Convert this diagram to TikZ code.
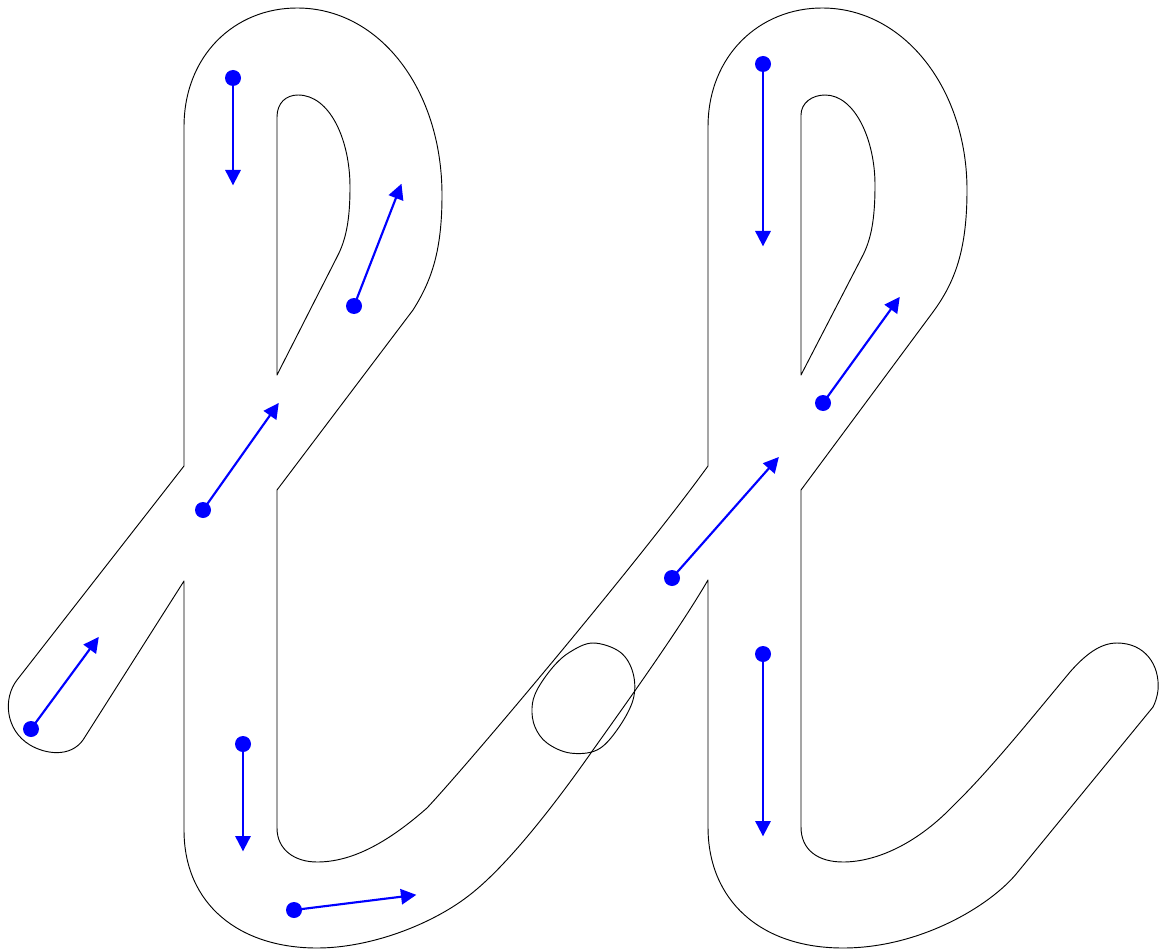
\documentclass[tikz,border=0pt]{standalone}
\usetikzlibrary{arrows.meta}
\tikzset{
  outline/.style={draw=black, line width=0.7pt, line join=round},
  stroke/.style={draw=blue, line width=1.6pt, -{Triangle[length=11.5pt,width=11.5pt]}, shorten >=-1pt},
  dot/.style={fill=blue}
}
\begin{document}
\begin{tikzpicture}[x=0.75pt,y=-0.75pt]
\useasboundingbox (0,0) rectangle (1159,952);
% outer outline of both letters
\draw[outline] (184,466) -- (184,127)
  .. controls (184,55) and (235,8) .. (297,8)
  .. controls (380,8) and (442,90) .. (442,195)
  .. controls (442,250) and (432,280) .. (413,310)
  -- (277,490) -- (277,828)
  .. controls (277,850) and (295,862) .. (317,862)
  .. controls (350,862) and (385,845) .. (427,808)
  .. controls (470,762) and (640,560) .. (708,466)
  -- (708,127)
  .. controls (708,55) and (760,8) .. (822,8)
  .. controls (905,8) and (967,90) .. (967,190)
  .. controls (967,250) and (955,282) .. (933,312)
  -- (801,490) -- (801,827)
  .. controls (801,850) and (818,862) .. (843,862)
  .. controls (875,862) and (915,845) .. (952,807)
  .. controls (990,770) and (1030,720) .. (1070,672)
  .. controls (1085,655) and (1100,643) .. (1117,643)
  .. controls (1145,643) and (1160,665) .. (1158,690)
  .. controls (1157,698) and (1155,703) .. (1153,707)
  -- (1017,873)
  .. controls (990,906) and (920,948) .. (843,948)
  .. controls (760,948) and (708,900) .. (708,827)
  -- (708,580)
  .. controls (680,628) and (630,698) .. (593,750)
  .. controls (565,790) and (510,865) .. (467,897)
  .. controls (430,925) and (370,948) .. (317,948)
  .. controls (240,948) and (184,905) .. (184,830)
  -- (184,581) -- (83,740)
  .. controls (70,758) and (45,754) .. (30,745)
  .. controls (5,730) and (3,698) .. (17,680)
  -- cycle;
% inner loops
\draw[outline] (277,375) -- (277,117)
  .. controls (277,103) and (286,95) .. (298,95)
  .. controls (330,95) and (350,140) .. (350,187)
  .. controls (350,220) and (346,240) .. (337,257) -- cycle;
\draw[outline] (801,375) -- (801,115)
  .. controls (801,103) and (812,95) .. (825,95)
  .. controls (855,95) and (875,140) .. (875,185)
  .. controls (875,220) and (871,240) .. (862,257) -- cycle;
% joining ring
\draw[outline] plot[smooth cycle, tension=0.6] coordinates {
  (593,643) (620,652) (633,673) (633,700) (617,730) (597,750)
  (570,753) (547,743) (535,727) (532,708) (537,690) (553,667) (570,652)};
% stroke directions
\coordinate (s1) at (233,78);   \coordinate (e1) at (233,184);
\coordinate (s2) at (354,306);  \coordinate (e2) at (401,185);
\coordinate (s3) at (203,510);  \coordinate (e3) at (278,404);
\coordinate (s4) at (31,729);   \coordinate (e4) at (98,638);
\coordinate (s5) at (243,744);  \coordinate (e5) at (243,850);
\coordinate (s6) at (294,910);  \coordinate (e6) at (415,895);
\coordinate (s7) at (763,64);   \coordinate (e7) at (763,245);
\coordinate (s8) at (823,403);  \coordinate (e8) at (899,298);
\coordinate (s9) at (672,578);  \coordinate (e9) at (778,458);
\coordinate (s10) at (763,654); \coordinate (e10) at (763,835);
\foreach \i in {1,...,10} {
  \draw[stroke] (s\i) -- (e\i);
  \fill[dot] (s\i) circle[radius=6pt];
}
\end{tikzpicture}
\end{document}
